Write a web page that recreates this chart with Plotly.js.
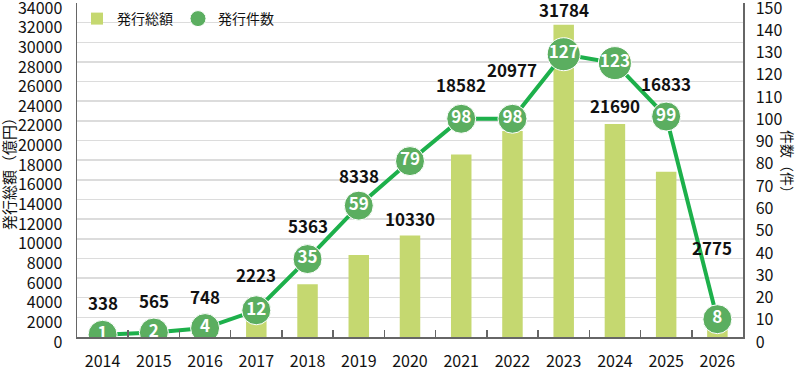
<!DOCTYPE html>
<html>
<head>
<meta charset="utf-8">
<script src="https://cdn.plot.ly/plotly-3.0.1.min.js"></script>
<style>html,body{margin:0;padding:0;background:#fff;}#chart{width:800px;height:372px;}</style>
</head>
<body>
<div id="chart"></div>
<script>
// ---- data ----
const years = ['2014','2015','2016','2017','2018','2019','2020','2021','2022','2023','2024','2025','2026'];
const totalAmount = [338, 565, 748, 2223, 5363, 8338, 10330, 18582, 20977, 31784, 21690, 16833, 2775];
const issueCount = [1, 2, 4, 12, 35, 59, 79, 98, 98, 127, 123, 99, 8];
const amountTicks = [0,2000,4000,6000,8000,10000,12000,14000,16000,18000,20000,22000,24000,26000,28000,30000,32000,34000];
const countTicks = [0,10,20,30,40,50,60,70,80,90,100,110,120,130,140,150];
const seriesNames = ['発行総額', '発行件数'];
const leftTitle = '発行総額（億円）';
const rightTitle = '件数（件）';

// ---- style (label offsets in px, not data) ----
const labelYShift = [31, 31, 33, 41, 59, 80, 17, 70, 61, 15, 18, 88, 62];
const labelXShift = [0, 0, 0, 0, 0, 0, 0, 0, 0, 0, 0, 0, -5];
const FONT = '"Noto Sans CJK JP", "Noto Sans", sans-serif';

const traces = [
  {
    type: 'bar', x: years, y: totalAmount, name: seriesNames[0],
    marker: {color: '#C5D870'}, yaxis: 'y', hoverinfo: 'x+y'
  },
  {
    type: 'scatter', mode: 'lines', x: years, y: issueCount, yaxis: 'y2',
    line: {color: '#1DB04B', width: 4}, showlegend: false, hoverinfo: 'skip'
  },
  {
    type: 'scatter', mode: 'markers+text', x: years, y: issueCount, yaxis: 'y2',
    name: seriesNames[1],
    marker: {color: '#5BAE60', opacity: 1, size: issueCount.map(v => String(v).length >= 3 ? 33 : 29)},
    text: issueCount.map(String), textposition: 'middle center',
    textfont: {color: '#ffffff', size: 17, family: FONT, weight: 'bold'}
  }
];

const annotations = years.map((yr, i) => ({
  x: i, y: totalAmount[i], xref: 'x', yref: 'y',
  text: String(totalAmount[i]), showarrow: false,
  xanchor: 'center', yanchor: 'middle',
  yshift: labelYShift[i], xshift: labelXShift[i],
  font: {size: 17, color: '#111', family: FONT, weight: 'bold'}
}));
annotations.push({
  xref: 'paper', yref: 'paper', x: 0, y: 0.5, xshift: -69, yshift: 0,
  xanchor: 'center', yanchor: 'middle',
  text: leftTitle, textangle: -90, showarrow: false,
  font: {size: 15, color: '#111', family: FONT}
});
annotations.push({
  xref: 'paper', yref: 'paper', x: 1, y: 0.5, xshift: 45, yshift: 5,
  xanchor: 'center', yanchor: 'middle',
  text: rightTitle, textangle: 90, showarrow: false,
  font: {size: 14, color: '#111', family: FONT}
});

const layout = {
  width: 800, height: 372,
  margin: {l: 77, r: 57, t: 3, b: 35, pad: 0},
  paper_bgcolor: '#fff', plot_bgcolor: '#fff',
  font: {family: FONT, color: '#111'},
  bargap: 0.6,
  showlegend: true,
  legend: {
    orientation: 'h', x: 0.0, y: 1, xanchor: 'left', yanchor: 'top',
    bgcolor: 'rgba(0,0,0,0)', font: {size: 14, family: FONT}, itemgap: 6
  },
  xaxis: {
    type: 'category', range: [-0.5, 12.5], autorange: false,
    showline: true, linecolor: '#666', linewidth: 1.5,
    ticks: 'inside', tickson: 'boundaries', ticklen: 7, tickcolor: '#666', tickwidth: 1.5,
    showgrid: false, tickangle: 0, ticklabeloverflow: 'allow', ticklabelstandoff: 9,
    tickfont: {size: 16, family: FONT}, fixedrange: true
  },
  yaxis: {
    range: [0, 34000], autorange: false, tickvals: amountTicks, ticktext: amountTicks.map(String),
    showline: true, linecolor: '#666', linewidth: 1.5,
    showgrid: true, gridcolor: '#dcdcdc', gridwidth: 1.5, zeroline: false,
    ticks: '', ticklabelshift: 5, ticklabelstandoff: 10, ticklabeloverflow: 'allow',
    tickfont: {size: 16, family: FONT}, fixedrange: true
  },
  yaxis2: {
    overlaying: 'y', side: 'right', range: [0, 150], autorange: false,
    tickvals: countTicks, ticktext: countTicks.map(String),
    showline: true, linecolor: '#666', linewidth: 1.5,
    showgrid: false, zeroline: false, ticks: '', ticklabelshift: 5, ticklabelstandoff: 8,
    ticklabeloverflow: 'allow',
    tickfont: {size: 16, family: FONT}, fixedrange: true
  },
  annotations: annotations
};

Plotly.newPlot('chart', traces, layout, {displayModeBar: false, staticPlot: true});
</script>
</body>
</html>
